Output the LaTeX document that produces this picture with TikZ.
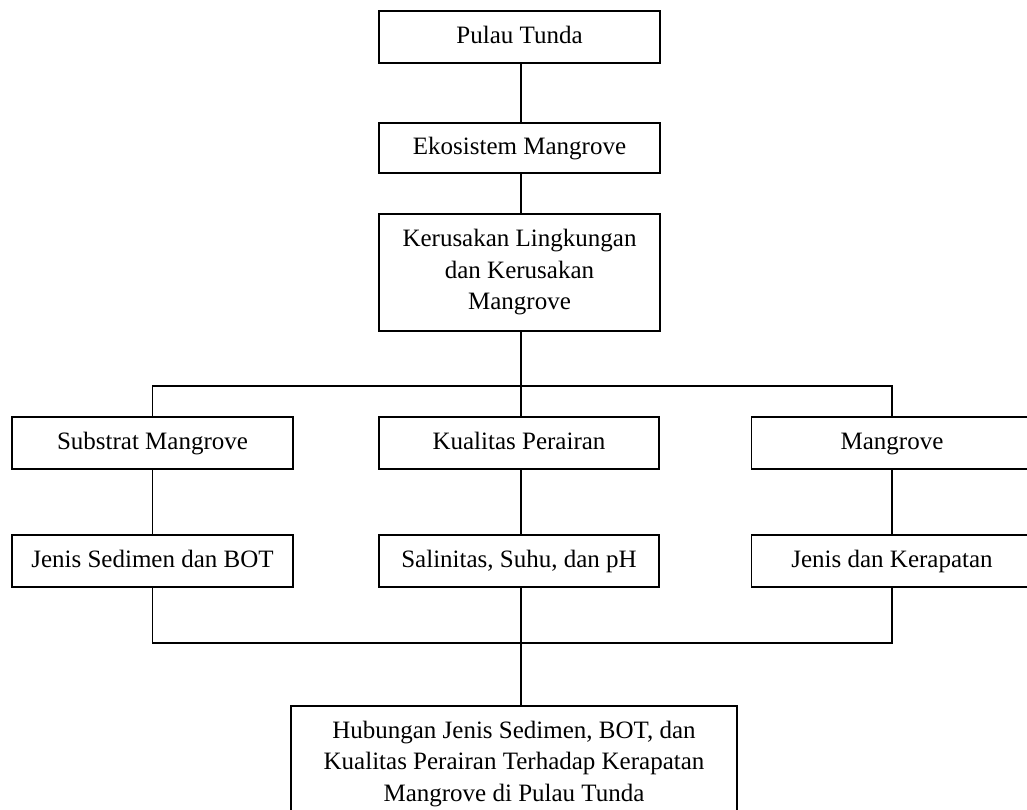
\documentclass[tikz,border=0pt]{standalone}
\usepackage{fontspec}
\setmainfont{Liberation Serif}
\usetikzlibrary{backgrounds}
\pgfdeclarelayer{edgelayer}
\pgfdeclarelayer{nodelayer}
\pgfsetlayers{edgelayer,nodelayer,main}
\tikzset{font=\fontsize{25}{31.5}\selectfont}
\tikzstyle{none}=[inner sep=0pt]
\tikzstyle{kotak}=[rectangle,draw,fill=white,line width=1.5pt,align=center,inner sep=0pt,minimum width=281pt,minimum height=52pt]
\tikzstyle{satu}=[style=kotak,text height=17pt,text depth=5pt]
\tikzstyle{garis}=[line width=1.5pt]

\begin{document}
\begin{tikzpicture}[x=1pt,y=-1pt]
	\useasboundingbox (0, 0) rectangle (1027, 809);
	\begin{pgfonlayer}{nodelayer}
		\clip (0, 0) rectangle (1027, 809);
		\node [style=satu] (0) at (519.5, 37) {Pulau Tunda};
		\node [style=satu, minimum height=50pt] (1) at (519.5, 148) {Ekosistem Mangrove};
		\node [style=kotak, minimum height=117pt] (2) at (519.5, 272.5) {Kerusakan Lingkungan\\dan Kerusakan\\Mangrove};
		\node [style=satu] (3) at (152.5, 443) {Substrat Mangrove};
		\node [style=satu, minimum width=280pt] (4) at (519, 443) {Kualitas Perairan};
		\node [style=satu] (5) at (892, 443) {Mangrove};
		\node [style=satu] (6) at (152.5, 561) {Jenis Sedimen dan BOT};
		\node [style=satu, minimum width=280pt] (7) at (519, 561) {Salinitas, Suhu, dan pH};
		\node [style=satu] (8) at (892, 561) {Jenis dan Kerapatan};
		\node [style=kotak, minimum width=446pt, minimum height=116pt] (9) at (514, 764) {Hubungan Jenis Sedimen, BOT, dan\\Kualitas Perairan Terhadap Kerapatan\\Mangrove di Pulau Tunda};
		\coordinate (10) at (521, 386);
		\coordinate (11) at (521, 643);
	\end{pgfonlayer}
	\begin{pgfonlayer}{edgelayer}
		\draw[style=garis] (0.south -| 10) to (1.north -| 10);
		\draw[style=garis] (1.south -| 10) to (2.north -| 10);
		\draw[style=garis] (2.south -| 10) to (10);
		\draw[style=garis] (3.north) |- (10) -| (5.north);
		\draw[style=garis] (10) to (4.north -| 10);
		\draw[style=garis] (3.south) to (6.north);
		\draw[style=garis] (4.south -| 10) to (7.north -| 10);
		\draw[style=garis] (5.south) to (8.north);
		\draw[style=garis] (6.south) |- (11) -| (8.south);
		\draw[style=garis] (7.south -| 11) to (9.north -| 11);
	\end{pgfonlayer}
\end{tikzpicture}
\end{document}
